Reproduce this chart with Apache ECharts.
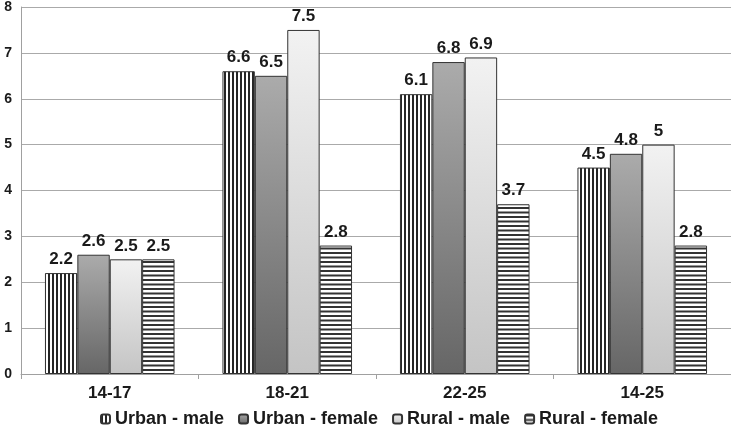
<!DOCTYPE html>
<html><head><meta charset="utf-8">
<script src="https://cdn.jsdelivr.net/npm/echarts@6/dist/echarts.min.js"></script>
<style>html,body{margin:0;padding:0;background:#fff}#c{width:731px;height:427px}</style>
</head><body><div id="c"></div>
<script>
const categories = ['14-17', '18-21', '22-25', '14-25'];
const seriesNames = ['Urban - male', 'Urban - female', 'Rural - male', 'Rural - female'];
const urbanMale = [2.2, 6.6, 6.1, 4.5];
const urbanFemale = [2.6, 6.5, 6.8, 4.8];
const ruralMale = [2.5, 7.5, 6.9, 5];
const ruralFemale = [2.5, 2.8, 3.7, 2.8];
const yTicks = [0, 1, 2, 3, 4, 5, 6, 7, 8];

function vStripes() {
  const c = document.createElement('canvas');
  c.width = 4; c.height = 4;
  const g = c.getContext('2d');
  g.fillStyle = '#ffffff'; g.fillRect(0, 0, 4, 4);
  g.fillStyle = '#262626'; g.fillRect(0, 0, 2, 4);
  return { image: c, repeat: 'repeat' };
}
function hStripes() {
  const c = document.createElement('canvas');
  c.width = 4; c.height = 9;
  const g = c.getContext('2d');
  g.fillStyle = '#ffffff'; g.fillRect(0, 0, 4, 9);
  g.fillStyle = '#333333'; g.fillRect(0, 0, 4, 2); g.fillRect(0, 4.5, 4, 2);
  return { image: c, repeat: 'repeat' };
}
const grad = (a, b) => ({ type: 'linear', x: 0, y: 0, x2: 0, y2: 1,
  colorStops: [{ offset: 0, color: a }, { offset: 1, color: b }] });

const fills = [vStripes(), grad('#ababab', '#666666'), grad('#f2f2f2', '#c4c4c4'), hStripes()];
const values = [urbanMale, urbanFemale, ruralMale, ruralFemale];
const FONT = '"Liberation Sans", Arial, sans-serif';

const chart = echarts.init(document.getElementById('c'));
chart.setOption({
  animation: false,
  textStyle: { fontFamily: FONT },
  grid: { left: 21, right: 0, top: 5, bottom: 53, containLabel: false },
  legend: {
    top: 410, left: 100, padding: 0,
    itemWidth: 9, itemHeight: 9, itemGap: 14,
    textStyle: { fontFamily: FONT, fontWeight: 'bold', fontSize: 18, color: '#1a1a1a' },
    data: seriesNames
  },
  xAxis: {
    type: 'category', data: categories,
    axisLine: { lineStyle: { color: '#a0a0a0', width: 1 } },
    axisTick: { show: true, length: 5, lineStyle: { color: '#a0a0a0' } },
    axisLabel: { fontFamily: FONT, fontWeight: 'bold', fontSize: 17, color: '#1a1a1a', margin: 11 }
  },
  yAxis: {
    type: 'value', min: yTicks[0], max: yTicks[yTicks.length - 1], interval: 1,
    axisLine: { show: true, lineStyle: { color: '#a0a0a0' } },
    axisTick: { show: false },
    splitLine: { lineStyle: { color: '#aaaaaa', width: 1 } },
    axisLabel: { fontFamily: FONT, fontWeight: 'bold', fontSize: 14, color: '#1a1a1a', margin: 9 }
  },
  series: seriesNames.map((n, i) => ({
    name: n, type: 'bar', data: values[i],
    barGap: '0%', barCategoryGap: '27%',
    itemStyle: { color: fills[i], borderColor: '#333333', borderWidth: 1 },
    label: { show: true, position: 'top', distance: 5, fontFamily: FONT, fontWeight: 'bold', fontSize: 17, color: '#1a1a1a' }
  }))
});
</script></body></html>
